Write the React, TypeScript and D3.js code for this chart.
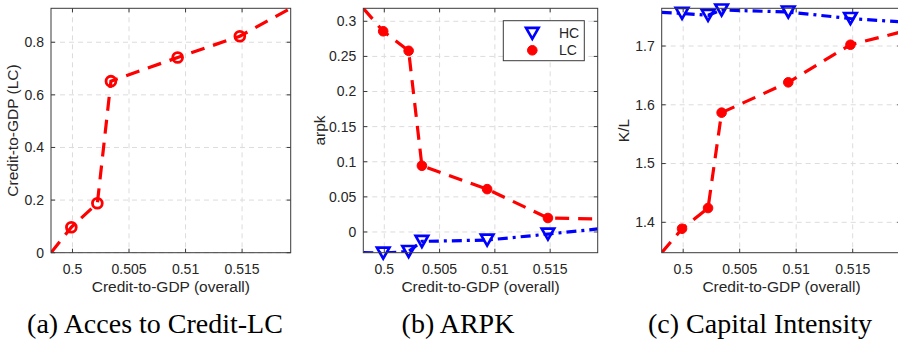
import React from "react";
import * as d3 from "d3";

// ---------- data ----------
const creditOverall = [0.4981, 0.4999, 0.5022, 0.5034, 0.5093, 0.5148, 0.5193];
const accessLC = [0, 0.097, 0.188, 0.652, 0.742, 0.823, 0.929];
const arpkLC = [0.3185, 0.2858, 0.258, 0.0943, 0.061, 0.0199, 0.0185];
const arpkHC = [-0.0295, -0.03, -0.0278, -0.0134, -0.0115, -0.003, 0.0043];
const klLC = [1.3483, 1.3891, 1.4243, 1.5866, 1.6382, 1.7022, 1.724];
const klHC = [1.7573, 1.7556, 1.7522, 1.7613, 1.7579, 1.7468, 1.741];
const markerIdx = [1, 2, 3, 4, 5];

const xTicks = [0.5, 0.505, 0.51, 0.515];
const xTickLabels = ["0.5", "0.505", "0.51", "0.515"];
const yTicksA = [0, 0.2, 0.4, 0.6, 0.8];
const yTickLabelsA = ["0", "0.2", "0.4", "0.6", "0.8"];
const yTicksB = [0, 0.05, 0.1, 0.15, 0.2, 0.25, 0.3];
const yTickLabelsB = ["0", "0.05", "0.1", "0.15", "0.2", "0.25", "0.3"];
const yTicksC = [1.4, 1.5, 1.6, 1.7];
const yTickLabelsC = ["1.4", "1.5", "1.6", "1.7"];
const legendLabels = ["HC", "LC"];
const captions = ["(a) Acces to Credit-LC", "(b) ARPK", "(c) Capital Intensity"];
const xLabel = "Credit-to-GDP (overall)";
const yLabels = ["Credit-to-GDP (LC)", "arpk", "K/L"];

// ---------- style ----------
const RED = "#ff0000";
const BLUE = "#0000ff";
const TXT = "#262626";
const AX = "#3a3a3a";
const GRID = "#dcdcdc";
const SANS = "'Liberation Sans', Arial, Helvetica, sans-serif";
const SERIF = "'Liberation Serif', 'Times New Roman', serif";
const TOP = 8.3;
const BOTTOM = 252.7;

type Series = { values: number[]; color: string; dash: string; marker: "open" | "filled" | "tri" };
type Panel = {
  key: string;
  left: number;
  right: number;
  yDomain: [number, number];
  yTicks: number[];
  yTickLabels: string[];
  yLabel: string;
  yLabelX: number;
  series: Series[];
  caption: string;
  capX: number;
  legend?: boolean;
};

const panels: Panel[] = [
  {
    key: "a", left: 51, right: 290.7, yDomain: [0, 0.929], yTicks: yTicksA, yTickLabels: yTickLabelsA,
    yLabel: yLabels[0], yLabelX: 12.7,
    series: [{ values: accessLC, color: RED, dash: "14 9", marker: "open" }],
    caption: captions[0], capX: 155,
  },
  {
    key: "b", left: 363.3, right: 597.7, yDomain: [-0.0295, 0.3185], yTicks: yTicksB, yTickLabels: yTickLabelsB,
    yLabel: yLabels[1], yLabelX: 319.3,
    series: [
      { values: arpkLC, color: RED, dash: "14 9", marker: "filled" },
      { values: arpkHC, color: BLUE, dash: "10 5 3 5", marker: "tri" },
    ],
    caption: captions[1], capX: 458, legend: true,
  },
  {
    key: "c", left: 661.7, right: 901.3, yDomain: [1.3483, 1.7642], yTicks: yTicksC, yTickLabels: yTickLabelsC,
    yLabel: yLabels[2], yLabelX: 623.3,
    series: [
      { values: klLC, color: RED, dash: "14 9", marker: "filled" },
      { values: klHC, color: BLUE, dash: "10 5 3 5", marker: "tri" },
    ],
    caption: captions[2], capX: 760,
  },
];

function triPath(cx: number, cy: number, w = 12.5, h = 11) {
  return `M${cx - w / 2},${cy - h / 2}L${cx + w / 2},${cy - h / 2}L${cx},${cy + h / 2}Z`;
}

function Marker({ kind, cx, cy, color }: { kind: string; cx: number; cy: number; color: string }) {
  if (kind === "open") return <circle cx={cx} cy={cy} r={4.9} fill="none" stroke={color} strokeWidth={2.8} />;
  if (kind === "filled") return <circle cx={cx} cy={cy} r={4.8} fill={color} stroke={color} strokeWidth={1} />;
  return <path d={triPath(cx, cy)} fill="none" stroke={color} strokeWidth={2.7} strokeLinejoin="miter" />;
}

function PanelView({ p }: { p: Panel }) {
  const x = d3.scaleLinear().domain([creditOverall[0], creditOverall[creditOverall.length - 1]]).range([p.left, p.right]);
  const y = d3.scaleLinear().domain(p.yDomain).range([BOTTOM, TOP]);
  const clipId = `clip-${p.key}`;
  const tl = 4;
  return (
    <g>
      <defs>
        <clipPath id={clipId}>
          <rect x={p.left} y={TOP} width={p.right - p.left} height={BOTTOM - TOP} />
        </clipPath>
      </defs>
      <rect x={p.left} y={TOP} width={p.right - p.left} height={BOTTOM - TOP} fill="#fff" />
      {/* grid */}
      {xTicks.map((t) => (
        <line key={"gx" + t} x1={x(t)} x2={x(t)} y1={TOP} y2={BOTTOM} stroke={GRID} strokeWidth={1} strokeDasharray="5 4" />
      ))}
      {p.yTicks.map((t) => (
        <line key={"gy" + t} x1={p.left} x2={p.right} y1={y(t)} y2={y(t)} stroke={GRID} strokeWidth={1} strokeDasharray="5 4" />
      ))}
      {/* ticks inside, all four sides */}
      {xTicks.map((t, i) => (
        <g key={"tx" + t}>
          <line x1={x(t)} x2={x(t)} y1={BOTTOM} y2={BOTTOM - tl} stroke={AX} />
          <line x1={x(t)} x2={x(t)} y1={TOP} y2={TOP + tl} stroke={AX} />
          <text x={x(t)} y={273.5} textAnchor="middle" fontFamily={SANS} fontSize={14} fill={TXT}>
            {xTickLabels[i]}
          </text>
        </g>
      ))}
      {p.yTicks.map((t, i) => (
        <g key={"ty" + t}>
          <line x1={p.left} x2={p.left + tl} y1={y(t)} y2={y(t)} stroke={AX} />
          <line x1={p.right} x2={p.right - tl} y1={y(t)} y2={y(t)} stroke={AX} />
          <text x={p.left - 7} y={y(t)} dy="0.35em" textAnchor="end" fontFamily={SANS} fontSize={14} fill={TXT}>
            {p.yTickLabels[i]}
          </text>
        </g>
      ))}
      {/* series */}
      {p.series.map((s, si) => {
        const line = d3
          .line<number>()
          .x((_, i) => x(creditOverall[i]))
          .y((v) => y(v));
        return (
          <g key={"s" + si}>
            <path d={line(s.values) || ""} fill="none" stroke={s.color} strokeWidth={3.2} strokeDasharray={s.dash} clipPath={`url(#${clipId})`} />
            {markerIdx.map((i) => (
              <Marker key={i} kind={s.marker} cx={x(creditOverall[i])} cy={y(s.values[i])} color={s.color} />
            ))}
          </g>
        );
      })}
      {/* box */}
      <rect x={p.left} y={TOP} width={p.right - p.left} height={BOTTOM - TOP} fill="none" stroke={AX} strokeWidth={1} />
      {/* labels */}
      <text x={(p.left + p.right) / 2} y={292} textAnchor="middle" fontFamily={SANS} fontSize={15.5} fill={TXT}>
        {xLabel}
      </text>
      <text
        transform={`translate(${p.yLabelX},${(TOP + BOTTOM) / 2}) rotate(-90)`}
        dy="0.35em"
        textAnchor="middle"
        fontFamily={SANS}
        fontSize={15.5}
        fill={TXT}
      >
        {p.yLabel}
      </text>
      {p.legend && (
        <g>
          <rect x={503.3} y={20.7} width={81} height={40} fill="#fff" stroke={AX} strokeWidth={1} />
          <Marker kind="tri" cx={532.3} cy={33.3} color={BLUE} />
          <text x={559} y={33.3} dy="0.35em" fontFamily={SANS} fontSize={14} fill={TXT}>{legendLabels[0]}</text>
          <Marker kind="filled" cx={532.3} cy={50.3} color={RED} />
          <text x={559} y={50.3} dy="0.35em" fontFamily={SANS} fontSize={14} fill={TXT}>{legendLabels[1]}</text>
        </g>
      )}
      <text x={p.capX} y={333.3} textAnchor="middle" fontFamily={SERIF} fontSize={28} fill="#000">
        {p.caption}
      </text>
    </g>
  );
}

export default function App() {
  return (
    <svg
      width={898}
      height={345}
      viewBox="0 0 898 345"
      style={{ position: "absolute", left: 0, top: 0, background: "#fff", display: "block" }}
    >
      <rect x={0} y={0} width={898} height={345} fill="#fff" />
      {panels.map((p) => (
        <PanelView key={p.key} p={p} />
      ))}
    </svg>
  );
}
